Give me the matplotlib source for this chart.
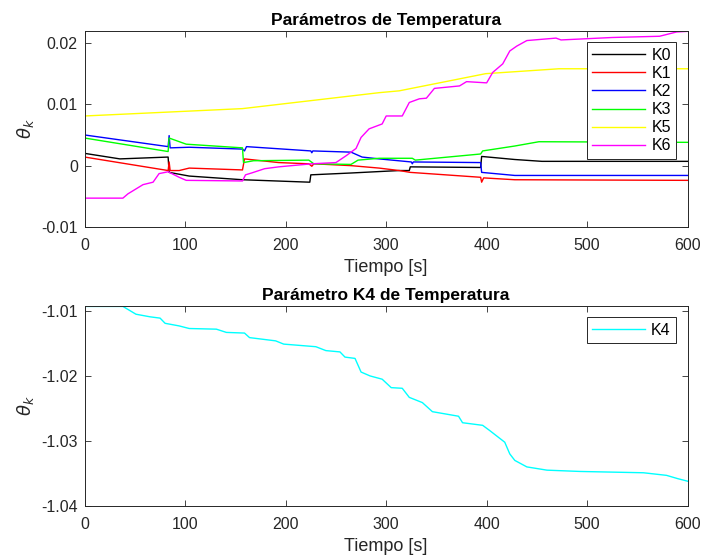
import matplotlib.pyplot as plt
import numpy as np

plt.rcParams['font.family'] = ['Liberation Sans', 'DejaVu Sans']
plt.rcParams['mathtext.fontset'] = 'dejavusans'

# --- datos ---
t_k0 = [0, 35, 83, 84, 104, 157, 224, 225, 265, 313, 323, 324, 394, 395, 428, 455, 600]
k0 = [0.0020, 0.0011, 0.0014, -0.0011, -0.0017, -0.0023, -0.0027, -0.0015, -0.0012, -0.0008, -0.0008,
      -0.0002, -0.0003, 0.0015, 0.0010, 0.0007, 0.0007]

t_k1 = [0, 83, 84, 85, 94, 104, 157, 159, 193, 223, 226, 228, 265, 293, 313, 324, 394, 395, 397, 428, 600]
k1 = [0.0014, -0.0008, 0.0006, -0.0008, -0.0008, -0.0004, -0.0007, 0.0011, 0.0005, 0.0003, -0.0001,
      0.0003, 0.0000, -0.0004, -0.0008, -0.0011, -0.0019, -0.0027, -0.0020, -0.0023, -0.0024]

t_k2 = [0, 83, 84, 85, 104, 157, 159, 161, 225, 226, 227, 265, 276, 293, 325, 326, 327, 394, 395, 428, 600]
k2 = [0.0050, 0.0031, 0.0049, 0.0029, 0.0030, 0.0027, 0.0024, 0.0031, 0.0024, 0.0021, 0.0024, 0.0022,
      0.0014, 0.0011, 0.0006, 0.0003, 0.0006, 0.0005, -0.0011, -0.0016, -0.0016]

t_k3 = [0, 83, 84, 101, 157, 158, 168, 223, 228, 265, 272, 293, 326, 329, 394, 396, 428, 452, 600]
k3 = [0.0045, 0.0023, 0.0045, 0.0035, 0.0029, 0.0005, 0.0008, 0.0009, 0.0003, 0.0002, 0.0009, 0.0012,
      0.0012, 0.0009, 0.0019, 0.0024, 0.0032, 0.0039, 0.0038]

t_k5 = [0, 157, 293, 313, 399, 472, 600]
k5 = [0.0081, 0.0093, 0.0119, 0.0122, 0.0150, 0.0158, 0.0158]

t_k6 = [0, 38, 43, 58, 68, 74, 83, 94, 101, 157, 160, 166, 179, 193, 206, 226, 250, 260, 270, 275,
        283, 296, 300, 316, 323, 333, 340, 348, 373, 380, 400, 406, 416, 423, 430, 440, 469, 474,
        525, 572, 589, 600]
k6 = [-0.0053, -0.0053, -0.0046, -0.0031, -0.0027, -0.0013, -0.0010, -0.0019, -0.0024, -0.0025,
      -0.0015, -0.0012, -0.0005, -0.0002, 0.0000, 0.0003, 0.0005, 0.0016, 0.0028, 0.0046, 0.0060,
      0.0068, 0.0081, 0.0081, 0.0103, 0.0109, 0.0110, 0.0126, 0.0130, 0.0137, 0.0135, 0.0152,
      0.0166, 0.0187, 0.0195, 0.0204, 0.0208, 0.0205, 0.0209, 0.0211, 0.0218, 0.0219]

t_k4 = [0, 38, 51, 65, 75, 80, 94, 104, 131, 141, 159, 164, 190, 198, 230, 240, 254, 259, 269, 275,
        284, 296, 305, 316, 323, 336, 346, 372, 376, 396, 403, 418, 423, 428, 440, 460, 493, 556,
        579, 590, 600]
k4 = [-1.0093, -1.0093, -1.0105, -1.0109, -1.0111, -1.0119, -1.0123, -1.0127, -1.0128, -1.0133,
      -1.0134, -1.0141, -1.0146, -1.0151, -1.0155, -1.0161, -1.0163, -1.0171, -1.0173, -1.0194,
      -1.0200, -1.0205, -1.0218, -1.0219, -1.0233, -1.0241, -1.0255, -1.0262, -1.0272, -1.0276,
      -1.0284, -1.0302, -1.0320, -1.0330, -1.0340, -1.0345, -1.0347, -1.0349, -1.0353, -1.0358,
      -1.0362]

fig = plt.figure(figsize=(7.06, 5.59), dpi=100)
ax1 = fig.add_axes([0.120, 0.594, 0.854, 0.351])
ax2 = fig.add_axes([0.120, 0.095, 0.854, 0.358])

lw = 1.0
ax1.plot(t_k0, k0, color='black', lw=lw, label='K0')
ax1.plot(t_k1, k1, color='red', lw=lw, label='K1')
ax1.plot(t_k2, k2, color='blue', lw=lw, label='K2')
ax1.plot(t_k3, k3, color='#00ff00', lw=lw, label='K3')
ax1.plot(t_k5, k5, color='yellow', lw=lw, label='K5')
ax1.plot(t_k6, k6, color='magenta', lw=lw, label='K6')
ax1.set_xlim(0, 600)
ax1.set_ylim(-0.01, 0.022)
ax1.set_yticks([-0.01, 0, 0.01, 0.02])
ax1.set_yticklabels(['-0.01', '0', '0.01', '0.02'])
ax1.set_title('Parámetros de Temperatura', fontweight='bold', fontsize=12.5, pad=4)

ax2.plot(t_k4, k4, color='cyan', lw=lw, label='K4')
ax2.set_xlim(0, 600)
ax2.set_ylim(-1.04, -1.0092)
ax2.set_yticks([-1.04, -1.03, -1.02, -1.01])
ax2.set_yticklabels(['-1.04', '-1.03', '-1.02', '-1.01'])
ax2.set_title('Parámetro K4 de Temperatura', fontweight='bold', fontsize=12.5, pad=4)

for ax in (ax1, ax2):
    ax.set_xticks(np.arange(0, 601, 100))
    ax.set_xlabel('Tiempo [s]', fontsize=13, color='#262626', labelpad=4)
    ax.set_ylabel(r'$\theta_k$', fontsize=13, color='#262626', labelpad=4)
    ax.tick_params(direction='in', top=True, right=True, length=4, width=0.6,
                   labelsize=11.5, colors='#262626')
    ax.tick_params(axis='x', pad=8)
    ax.tick_params(axis='y', pad=5)
    for s in ax.spines.values():
        s.set_color('#262626')
        s.set_linewidth(0.7)
    leg = ax.legend(loc='upper right', fontsize=11.5, fancybox=False, framealpha=1,
                    edgecolor='#262626', handlelength=3.3, borderaxespad=0.7,
                    labelspacing=0.2, handletextpad=0.4, borderpad=0.35)
    leg.get_frame().set_linewidth(0.7)

fig.savefig('out.png', dpi=100)
